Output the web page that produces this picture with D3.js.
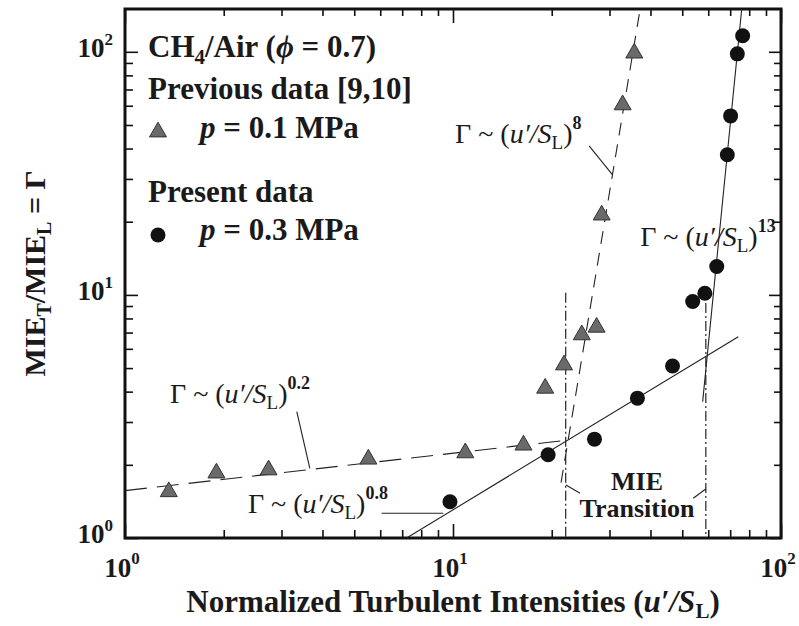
<!DOCTYPE html>
<html>
<head>
<meta charset="utf-8">
<script src="https://cdn.jsdelivr.net/npm/d3@7"></script>
<style>
body { margin: 0; background: #fff; }
text { font-family: "Liberation Serif", "Times New Roman", serif; fill: #1a1a1a; }
</style>
</head>
<body>
<div id="chart"></div>
<script>
// Previous data [9,10], p = 0.1 MPa (triangles)
var prevX = [1.36, 1.90, 2.74, 5.52, 10.9, 16.4, 19.1, 21.8, 24.7, 27.4, 28.4, 32.9, 35.7];
var prevY = [1.55, 1.85, 1.905, 2.11, 2.24, 2.41, 4.13, 5.15, 6.85, 7.36, 21.3, 60.5, 98.8];

// Present data, p = 0.3 MPa (circles)
var presX = [9.79, 19.5, 27.0, 36.5, 46.7, 53.8, 58.6, 63.7, 68.6, 70.2, 73.6, 76.4];
var presY = [1.41, 2.20, 2.55, 3.76, 5.10, 9.39, 10.16, 13.08, 37.7, 54.5, 98.1, 116.4];

// Power-law fit lines, end points in data units
var fitLow = [[1, 1.566], [22.5, 2.53]];      // ~ (u'/SL)^0.2
var fitHigh = [[21.35, 1.69], [37.2, 150]];   // ~ (u'/SL)^8
var fitPres = [[7.22, 1], [74.1, 6.73]];      // ~ (u'/SL)^0.8
var fitSteep = [[57.7, 3.64], [75.9, 150]];   // ~ (u'/SL)^13

// MIE transition bounds
var transX = [22.06, 59.0];
var transTop = [10.2, 9.26];

// ticks
var majorTicks = [1, 10, 100];
var tickExp = ["0", "1", "2"];
var minorTicks = [2, 3, 4, 5, 6, 7, 8, 9, 20, 30, 40, 50, 60, 70, 80, 90];

var W = 799, H = 626;
var margin = { top: 9, right: 18, bottom: 88, left: 125 };

var svg = d3.select("#chart")
    .append("svg")
    .attr("width", W)
    .attr("height", H);

var x = d3.scaleLog().domain([1, 100]).range([margin.left, W - margin.right]);
var y = d3.scaleLog().domain([1, 150]).range([H - margin.bottom, margin.top]);

var x0 = x.range()[0], x1 = x.range()[1];
var y0 = y.range()[0], y1 = y.range()[1];

// axes with inward ticks on all four sides
function ticks(axis, vals, len, tx, ty) {
    var g = svg.append("g")
        .attr("transform", "translate(" + tx + "," + ty + ")")
        .call(axis.tickValues(vals).tickSize(-len).tickFormat(""));
    g.select(".domain").remove();
    g.selectAll("line").attr("stroke", "#111").attr("stroke-width", 1.6);
}
ticks(d3.axisBottom(x), majorTicks, 14, 0, y0);
ticks(d3.axisBottom(x), minorTicks, 8, 0, y0);
ticks(d3.axisTop(x), majorTicks, 14, 0, y1);
ticks(d3.axisTop(x), minorTicks, 7, 0, y1);
ticks(d3.axisLeft(y), majorTicks, 13, x0, 0);
ticks(d3.axisLeft(y), minorTicks, 8, x0, 0);
ticks(d3.axisRight(y), majorTicks, 12, x1, 0);
ticks(d3.axisRight(y), minorTicks, 7, x1, 0);

svg.append("rect")
    .attr("x", x0).attr("y", y1)
    .attr("width", x1 - x0).attr("height", y0 - y1)
    .attr("fill", "none")
    .attr("stroke", "#111")
    .attr("stroke-width", 3);

// tick labels (10^n)
majorTicks.forEach(function (v, i) {
    var t = svg.append("text")
        .attr("x", x(v) - 3).attr("y", y0 + 39)
        .attr("text-anchor", "middle")
        .style("font-size", "27px").style("font-weight", "bold");
    t.append("tspan").text("10");
    t.append("tspan").attr("dy", -13).style("font-size", "17px").text(tickExp[i]);

    var s = svg.append("text")
        .attr("x", x0 - 12).attr("y", y(v) + 5)
        .attr("text-anchor", "end")
        .style("font-size", "27px").style("font-weight", "bold");
    s.append("tspan").text("10");
    s.append("tspan").attr("dy", -12).style("font-size", "17px").text(tickExp[i]);
});

// axis titles
var xt = svg.append("text")
    .attr("x", (x0 + x1) / 2).attr("y", 612)
    .attr("text-anchor", "middle")
    .style("font-size", "31px").style("font-weight", "bold");
xt.append("tspan").text("Normalized Turbulent Intensities (");
xt.append("tspan").style("font-style", "italic").text("u\u2032/S");
xt.append("tspan").attr("dy", 6).style("font-size", "21px").text("L");
xt.append("tspan").attr("dy", -6).text(")");

var yt = svg.append("text")
    .attr("transform", "translate(45," + ((y0 + y1) / 2) + ") rotate(-90)")
    .attr("text-anchor", "middle")
    .style("font-size", "30px").style("font-weight", "bold");
yt.append("tspan").text("MIE");
yt.append("tspan").attr("dy", 6).style("font-size", "20px").text("T");
yt.append("tspan").attr("dy", -6).text("/MIE");
yt.append("tspan").attr("dy", 6).style("font-size", "20px").text("L");
yt.append("tspan").attr("dy", -6).text(" = \u0393");

// fit lines
var line = d3.line().x(function (d) { return x(d[0]); }).y(function (d) { return y(d[1]); });
var plot = svg.append("g");
plot.append("path").datum(fitLow).attr("d", line)
    .attr("fill", "none").attr("stroke", "#222").attr("stroke-width", 1.1)
    .attr("stroke-dasharray", "22,10");
plot.append("path").datum(fitHigh).attr("d", line)
    .attr("fill", "none").attr("stroke", "#222").attr("stroke-width", 1.1)
    .attr("stroke-dasharray", "13,9");
plot.append("path").datum(fitPres).attr("d", line)
    .attr("fill", "none").attr("stroke", "#222").attr("stroke-width", 1.1);
plot.append("path").datum(fitSteep).attr("d", line)
    .attr("fill", "none").attr("stroke", "#222").attr("stroke-width", 1.1);

// MIE transition boundaries
transX.forEach(function (v, i) {
    plot.append("line")
        .attr("x1", x(v)).attr("x2", x(v))
        .attr("y1", y(transTop[i])).attr("y2", y0)
        .attr("stroke", "#222").attr("stroke-width", 1.2)
        .attr("stroke-dasharray", "10,3,2,3");
});

// markers
var tri = d3.symbol().type(d3.symbolTriangle).size(125);
plot.selectAll(".tri")
    .data(prevX.map(function (v, i) { return [v, prevY[i]]; }))
    .enter().append("path")
    .attr("transform", function (d) { return "translate(" + x(d[0]) + "," + y(d[1]) + ")"; })
    .attr("d", tri)
    .attr("fill", "#6a6a6a").attr("stroke", "#333").attr("stroke-width", 1);

plot.selectAll(".dot")
    .data(presX.map(function (v, i) { return [v, presY[i]]; }))
    .enter().append("circle")
    .attr("cx", function (d) { return x(d[0]); })
    .attr("cy", function (d) { return y(d[1]); })
    .attr("r", 7.5)
    .attr("fill", "#111");

// annotation leaders (data units)
var leaders = [
    [[26.0, 41.0], [30.7, 31.1]],
    [[3.34, 3.31], [3.66, 1.935]],
    [[6.06, 1.264], [9.34, 1.264]],
    [[22.1, 1.652], [24.4, 1.527]],
    [[58.95, 1.591], [54.0, 1.457]]
];
leaders.forEach(function (l) {
    plot.append("path").datum(l).attr("d", line)
        .attr("fill", "none").attr("stroke", "#222").attr("stroke-width", 1.1);
});

// power-law labels
var labelPos = [[10.14, 42.2], [37.2, 15.9], [1.371, 3.59], [2.37, 1.267]];
var labelExp = ["8", "13", "0.2", "0.8"];
labelPos.forEach(function (p, i) {
    var t = svg.append("text")
        .attr("x", x(p[0])).attr("y", y(p[1]))
        .style("font-size", "28px");
    t.append("tspan").text("\u0393 ~ (");
    t.append("tspan").style("font-style", "italic").text("u\u2032/S");
    t.append("tspan").attr("dy", 6).style("font-size", "19px").text("L");
    t.append("tspan").attr("dy", -6).text(")");
    t.append("tspan").attr("dy", -14).style("font-size", "18px").style("font-weight", "bold").text(labelExp[i]);
});

svg.append("text").attr("x", x(36.4)).attr("y", y(1.576))
    .attr("text-anchor", "middle")
    .style("font-size", "26px").style("font-weight", "bold").text("MIE");
svg.append("text").attr("x", x(36.4)).attr("y", y(1.22))
    .attr("text-anchor", "middle")
    .style("font-size", "26px").style("font-weight", "bold").text("Transition");

// legend
var lg = svg.append("g").style("font-weight", "bold").style("font-size", "31px");
var l1 = lg.append("text").attr("x", 148).attr("y", 57);
l1.append("tspan").text("CH");
l1.append("tspan").attr("dy", 7).style("font-size", "21px").text("4");
l1.append("tspan").attr("dy", -7).text("/Air (");
l1.append("tspan").style("font-style", "italic").text("\u03d5");
l1.append("tspan").text(" = 0.7)");
lg.append("text").attr("x", 148).attr("y", 99).text("Previous data [9,10]");
var l3 = lg.append("text").attr("x", 200).attr("y", 138);
l3.append("tspan").style("font-style", "italic").text("p");
l3.append("tspan").text(" = 0.1 MPa");
lg.append("text").attr("x", 148).attr("y", 202).text("Present data");
var l5 = lg.append("text").attr("x", 200).attr("y", 240);
l5.append("tspan").style("font-style", "italic").text("p");
l5.append("tspan").text(" = 0.3 MPa");
lg.append("path").attr("transform", "translate(158,132)").attr("d", tri)
    .attr("fill", "#6a6a6a").attr("stroke", "#333").attr("stroke-width", 1);
lg.append("circle").attr("cx", 158).attr("cy", 235).attr("r", 7.5).attr("fill", "#111");
</script>
</body>
</html>
